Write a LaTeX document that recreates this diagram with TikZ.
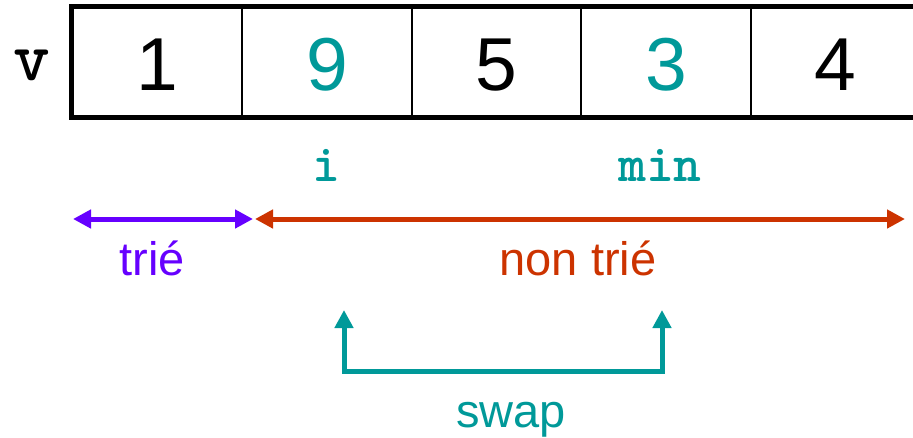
\documentclass[tikz,border=0pt]{standalone}
\usepackage{fontspec}
\setmainfont{Liberation Sans}
\usetikzlibrary{arrows.meta}
\definecolor{teal}{HTML}{009999}
\definecolor{purp}{HTML}{6600FF}
\definecolor{rust}{HTML}{CC3300}
\tikzset{
  cell/.style={draw=black, line width=2pt, minimum width=169.5pt, minimum height=108.5pt, inner sep=0pt},
  digit/.style={font=\fontsize{75}{80}\selectfont, inner sep=0pt},
  codelbl/.style={font=\ttfamily\bfseries\fontsize{53}{57}\selectfont, inner sep=0pt, anchor=base, text=teal},
  txt/.style={font=\fontsize{47}{51}\selectfont, inner sep=0pt, anchor=base},
  dbl/.style={{Triangle[length=18pt,width=18pt]}-{Triangle[length=18pt,width=18pt]}, line width=5pt},
}
\begin{document}
\begin{tikzpicture}[x=1pt,y=-1pt]
\useasboundingbox (0,0) rectangle (913,437);
% cells
\node[cell] (c1) at (157.5,62) {};
\node[cell] (c2) at (327,62) {};
\node[cell] (c3) at (496.5,62) {};
\node[cell] (c4) at (666,62) {};
\node[cell] (c5) at (835.5,62) {};
\draw[line width=5pt, line join=miter] (c5.north east) -- (c1.north west) -- (c1.south west) -- (c5.south east);
% digits
\node[digit] (d1) at ([yshift=-3pt]c1.center) {1};
\node[digit, text=teal] (d2) at ([yshift=-3pt]c2.center) {9};
\node[digit] (d3) at ([yshift=-3pt]c3.center) {5};
\node[digit, text=teal] (d4) at ([yshift=-3pt]c4.center) {3};
\node[digit] (d5) at ([yshift=-3pt]c5.center) {4};
% v
\node[codelbl, text=black, font=\ttfamily\bfseries\fontsize{70}{74}\selectfont] (v) at (32,80) {v};
% i, min
\node[codelbl] (i) at (326,181) {i};
\node[codelbl] (min) at (660,181) {min};
% sorted / unsorted arrows
\coordinate (pa) at (73,219);
\coordinate (pb) at (253,219);
\coordinate (ra) at (255,219);
\coordinate (rb) at (905,219);
\draw[dbl, purp] (pa) -- (pb);
\draw[dbl, rust] (ra) -- (rb);
\node[txt, text=purp] (trie) at (152,275) {trié};
\node[txt, text=rust] (nontrie) at (578,275) {non trié};
% swap
\coordinate (sa) at (344,310);
\coordinate (sb) at (662,310);
\coordinate (sc) at (344,371);
\coordinate (sd) at (662,371);
\draw[dbl, teal, line join=miter] (sa) -- (sc) -- (sd) -- (sb);
\node[txt, text=teal] (swap) at (511,427) {swap};
\end{tikzpicture}
\end{document}
